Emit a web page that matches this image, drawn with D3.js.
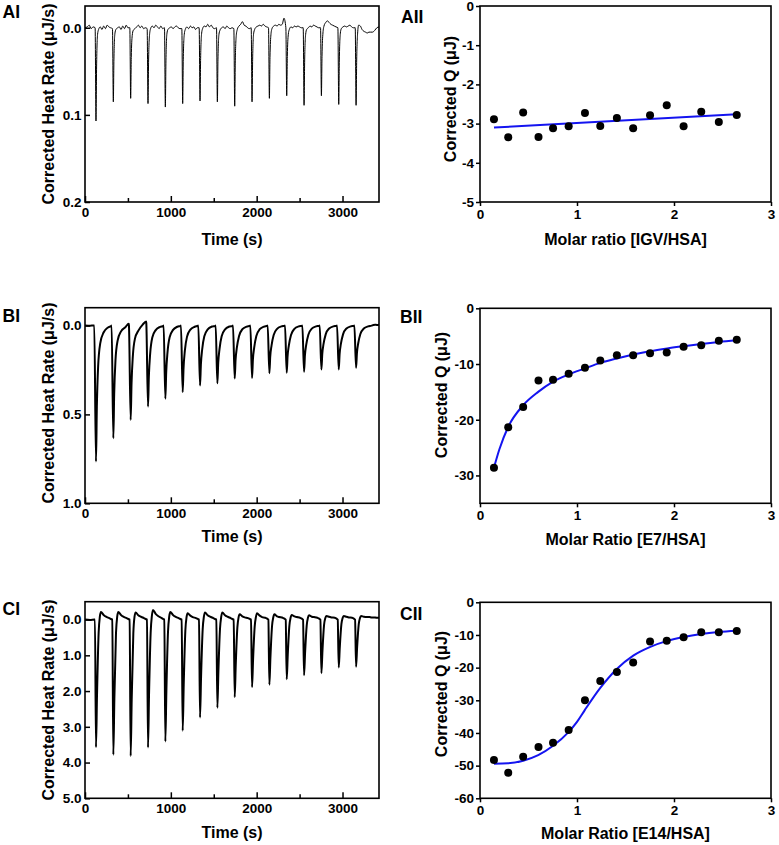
<!DOCTYPE html>
<html><head><meta charset="utf-8">
<script src="https://cdn.jsdelivr.net/npm/d3@7"></script>
<style>
body{margin:0;background:#fff;}
svg text{font-family:"Liberation Sans",Arial,sans-serif;font-weight:bold;fill:#000;}
</style>
</head><body>
<svg id="c" width="779" height="845"></svg>
<script>
// ---------------- DATA ----------------
const injTimes = [128, 330, 532, 734, 936, 1138, 1340, 1542, 1744, 1946, 2148, 2350, 2552, 2754, 2956, 3158];

// AI thermogram (values at time offsets around each injection peak)
const aiOffsets = [-10, 0, 7, 18, 30, 50, 70, 90, 110, 130, 150, 170];
const aiPeaks = [
  [0.000, 0.107, 0.045, 0.008, 0.002, -0.001, 0.002, -0.002, 0.001, -0.003, -0.001, 0.000],
  [0.001, 0.085, 0.036, 0.007, 0.002, 0.000, -0.001, 0.002, -0.002, 0.001, -0.003, 0.000],
  [0.000, 0.081, 0.034, 0.009, 0.003, 0.001, -0.001, -0.003, 0.000, -0.002, 0.001, 0.000],
  [0.001, 0.087, 0.037, 0.008, 0.001, -0.002, 0.000, -0.003, -0.001, 0.001, -0.002, 0.001],
  [0.000, 0.091, 0.038, 0.007, 0.002, 0.000, -0.001, 0.001, -0.001, -0.002, 0.000, 0.001],
  [0.001, 0.087, 0.036, 0.008, 0.002, -0.001, 0.001, -0.002, 0.000, -0.001, 0.002, 0.000],
  [0.000, 0.084, 0.035, 0.007, 0.001, -0.002, -0.001, -0.004, -0.001, -0.003, 0.000, 0.001],
  [0.000, 0.085, 0.036, 0.008, 0.003, 0.000, -0.001, 0.001, -0.002, 0.000, 0.001, 0.000],
  [0.001, 0.090, 0.038, 0.009, 0.002, -0.002, -0.004, -0.007, -0.003, -0.002, 0.000, 0.001],
  [0.000, 0.085, 0.036, 0.007, 0.002, -0.001, -0.002, -0.003, -0.002, -0.004, -0.002, -0.001],
  [0.000, 0.081, 0.034, 0.008, 0.001, -0.002, -0.003, -0.002, -0.004, -0.003, -0.004, -0.011],
  [0.000, 0.078, 0.033, 0.008, 0.002, -0.001, 0.000, -0.002, -0.001, -0.002, -0.001, 0.000],
  [0.000, 0.089, 0.037, 0.008, 0.002, 0.000, -0.002, -0.001, -0.003, -0.002, -0.001, 0.000],
  [0.000, 0.078, 0.033, 0.006, -0.002, -0.006, -0.008, -0.006, -0.004, -0.003, -0.002, -0.001],
  [0.000, 0.088, 0.037, 0.007, 0.001, -0.001, -0.002, -0.001, -0.002, -0.003, -0.001, 0.000],
  [0.000, 0.089, 0.037, 0.006, -0.003, -0.002, 0.002, 0.004, 0.005, 0.006, 0.005, 0.005]
];
const aiLead = [[0, 0.000], [25, -0.001], [50, -0.003], [70, 0.001], [95, -0.001]];
const aiTail = [[3350, 0.005], [3375, 0.003], [3400, 0.000], [3425, -0.001]];

// BI thermogram
const biOffsets = [-20, 0, 10, 25, 50, 90, 140, 180];
const biPeaks = [
  [0, 0.765, 0.459, 0.230, 0.099, 0.038, 0.011, 0.002],
  [0, 0.634, 0.387, 0.196, 0.085, 0.033, 0.010, -0.010],
  [0, 0.531, 0.329, 0.175, 0.074, 0.029, -0.005, -0.022],
  [-0.015, 0.456, 0.287, 0.160, 0.068, 0.026, 0.008, 0.002],
  [0, 0.412, 0.264, 0.152, 0.066, 0.025, 0.007, 0.002],
  [0, 0.375, 0.240, 0.143, 0.064, 0.023, 0.007, 0.001],
  [0, 0.338, 0.220, 0.135, 0.061, 0.022, 0.006, 0.002],
  [0, 0.325, 0.211, 0.133, 0.060, 0.022, 0.006, 0.002],
  [0, 0.298, 0.194, 0.125, 0.060, 0.021, 0.006, 0.001],
  [0, 0.296, 0.192, 0.124, 0.059, 0.021, 0.006, 0.001],
  [0, 0.268, 0.174, 0.113, 0.054, 0.019, 0.005, 0.001],
  [0, 0.266, 0.173, 0.112, 0.053, 0.019, 0.005, 0.001],
  [0, 0.260, 0.169, 0.109, 0.052, 0.018, 0.005, 0.001],
  [0, 0.248, 0.161, 0.104, 0.050, 0.017, 0.005, 0.001],
  [0, 0.248, 0.161, 0.104, 0.050, 0.017, 0.005, 0.001],
  [0, 0.238, 0.155, 0.100, 0.048, 0.017, 0.005, 0.001]
];
const biLead = [[0, 0.000], [60, 0.001], [100, 0.000]];
const biTail = [[3360, -0.003], [3380, -0.004], [3400, -0.003], [3425, -0.004]];

// CI thermogram
const ciOffsets = [-12, 0, 12, 31, 45, 58, 89, 117, 155, 180];
const ciPeaks = [
  [0, 3.57, 2.11, 0.36, -0.08, -0.21, -0.13, -0.08, -0.04, -0.01],
  [0, 3.78, 2.23, 0.38, -0.08, -0.21, -0.13, -0.08, -0.04, -0.01],
  [0, 3.82, 2.25, 0.38, -0.08, -0.20, -0.12, -0.08, -0.04, -0.01],
  [0, 3.58, 2.11, 0.36, -0.10, -0.27, -0.16, -0.10, -0.05, -0.01],
  [0, 3.41, 2.01, 0.34, -0.08, -0.21, -0.13, -0.08, -0.04, -0.01],
  [0, 3.11, 1.83, 0.31, -0.07, -0.18, -0.11, -0.07, -0.04, -0.01],
  [0, 2.74, 1.62, 0.27, -0.08, -0.20, -0.12, -0.08, -0.04, -0.01],
  [0, 2.47, 1.46, 0.25, -0.08, -0.20, -0.12, -0.08, -0.04, -0.01],
  [0, 2.17, 1.28, 0.22, -0.06, -0.15, -0.09, -0.06, -0.04, -0.01],
  [0, 1.89, 1.12, 0.19, -0.07, -0.18, -0.11, -0.07, -0.05, -0.02],
  [0, 1.82, 1.07, 0.18, -0.06, -0.15, -0.09, -0.07, -0.05, -0.02],
  [0, 1.67, 0.99, 0.17, -0.05, -0.13, -0.09, -0.07, -0.05, -0.02],
  [0, 1.56, 0.92, 0.16, -0.05, -0.12, -0.08, -0.07, -0.05, -0.02],
  [0, 1.50, 0.89, 0.15, -0.04, -0.10, -0.08, -0.06, -0.05, -0.02],
  [0, 1.34, 0.79, 0.13, -0.04, -0.10, -0.08, -0.06, -0.05, -0.02],
  [0, 1.32, 0.78, 0.13, -0.04, -0.10, -0.08, -0.07, -0.07, -0.06]
];
const ciLead = [[0, 0.0], [60, 0.01], [110, 0.0]];
const ciTail = [[3360, -0.06], [3400, -0.05], [3425, -0.05]];

// Integrated heats
const ratioX = [0.144, 0.291, 0.445, 0.603, 0.753, 0.914, 1.082, 1.240, 1.411, 1.579, 1.753, 1.925, 2.099, 2.281, 2.462, 2.647];
const aiiQ = [-2.89, -3.35, -2.72, -3.34, -3.12, -3.07, -2.73, -3.06, -2.86, -3.12, -2.79, -2.53, -3.07, -2.70, -2.96, -2.78];
const biiQ = [-28.6, -21.35, -17.7, -12.94, -12.82, -11.75, -10.67, -9.36, -8.41, -8.41, -8.05, -7.93, -6.92, -6.62, -5.84, -5.66];
const ciiQ = [-48.3, -52.2, -47.3, -44.3, -43.0, -39.1, -30.0, -24.1, -21.3, -18.4, -12.0, -11.8, -10.7, -9.2, -9.2, -8.8];

// Fitted curves
const aiiFit = [[0.144, -3.10], [2.647, -2.76]];
const biiFit = [[0.144, -28.6], [0.2, -25.3], [0.29, -21.3], [0.445, -17.4], [0.6, -15.0], [0.75, -13.2], [0.91, -11.9], [1.08, -10.8], [1.24, -9.8], [1.41, -9.0], [1.58, -8.3], [1.75, -7.7], [1.93, -7.2], [2.1, -6.8], [2.28, -6.4], [2.46, -6.05], [2.647, -5.75]];
const ciiFit = [[0.144, -49.4], [0.29, -49.3], [0.445, -48.5], [0.6, -46.8], [0.75, -44.0], [0.91, -39.8], [1.0, -36.6], [1.08, -33.0], [1.24, -26.2], [1.41, -20.4], [1.58, -16.3], [1.75, -13.7], [1.93, -11.8], [2.1, -10.6], [2.28, -9.7], [2.46, -9.1], [2.647, -8.7]];

// Axis ticks / labels
const timeTicks = [0, 1000, 2000, 3000];
const timeMinor = [500, 1500, 2500];
const aiYTicks = [0, 0.1, 0.2];
const biYTicks = [0, 0.5, 1.0];
const ciYTicks = [0, 1, 2, 3, 4, 5];
const ratioTicks = [0, 1, 2, 3];
const aiiYTicks = [0, -1, -2, -3, -4, -5];
const biiYTicks = [0, -10, -20, -30];
const ciiYTicks = [0, -10, -20, -30, -40, -50, -60];

// ---------------- DRAW ----------------
const svg = d3.select("#c");
const TICK_FS = "13.5px", TITLE_FS = "16px";

function buildTrace(lead, offsets, rows, tail) {
  const pts = lead.slice();
  rows.forEach((row, k) => row.forEach((v, j) => pts.push([injTimes[k] + offsets[j], v])));
  return pts.concat(tail);
}

function styleAxis(g) {
  g.select(".domain").remove();
  g.selectAll(".tick line").attr("stroke", "#000").attr("stroke-width", 1.5);
  g.selectAll(".tick text").style("font-size", TICK_FS).attr("fill", "#000")
    .style("font-family", '"Liberation Sans",Arial,sans-serif').style("font-weight", "bold");
}

function frame(b) {
  svg.append("rect").attr("x", b.l).attr("y", b.t).attr("width", b.r - b.l).attr("height", b.b - b.t)
    .attr("fill", "none").attr("stroke", "#000").attr("stroke-width", 1.6);
}

function label(txt, x, y) {
  svg.append("text").attr("x", x).attr("y", y).style("font-size", "17.5px").text(txt);
}
function xTitle(txt, x, y) {
  svg.append("text").attr("x", x).attr("y", y).attr("text-anchor", "middle").style("font-size", TITLE_FS).text(txt);
}
function yTitle(txt, x, y) {
  svg.append("text").attr("transform", `translate(${x},${y}) rotate(-90)`).attr("text-anchor", "middle")
    .attr("dy", "0.35em").style("font-size", TITLE_FS).text(txt);
}

function thermo(b, ydom, yticks, fmt, trace, lw, lab, labPos, ytPos, xtPos) {
  const x = d3.scaleLinear().domain([0, 3425]).range([b.l, b.r]);
  const y = d3.scaleLinear().domain(ydom).range([b.t, b.b]);
  const clipId = "clip" + lab;
  svg.append("clipPath").attr("id", clipId).append("rect")
    .attr("x", b.l).attr("y", b.t).attr("width", b.r - b.l).attr("height", b.b - b.t);
  svg.append("path").datum(trace).attr("clip-path", `url(#${clipId})`)
    .attr("fill", "none").attr("stroke", "#000").attr("stroke-width", lw).attr("stroke-linejoin", "round")
    .attr("d", d3.line().x(d => x(d[0])).y(d => y(d[1])).curve(d3.curveMonotoneX));
  svg.append("g").attr("transform", `translate(0,${b.b})`)
    .call(d3.axisBottom(x).tickValues(timeTicks).tickSizeInner(-6).tickSizeOuter(0).tickPadding(5).tickFormat(d3.format("d")))
    .call(styleAxis);
  svg.append("g").attr("transform", `translate(0,${b.b})`)
    .call(d3.axisBottom(x).tickValues(timeMinor).tickSizeInner(-4).tickSizeOuter(0).tickFormat(""))
    .call(styleAxis);
  svg.append("g").attr("transform", `translate(${b.l},0)`)
    .call(d3.axisLeft(y).tickValues(yticks).tickSizeInner(-5).tickSizeOuter(0).tickPadding(3.5).tickFormat(d3.format(fmt)))
    .call(styleAxis);
  frame(b);
  label(lab, labPos[0], labPos[1]);
  yTitle("Corrected Heat Rate (μJ/s)", ytPos[0], ytPos[1]);
  xTitle("Time (s)", xtPos[0], xtPos[1]);
}

function iso(b, ydom, yticks, qs, fit, lab, labPos, ytPos, xTitleTxt, xtPos, curved) {
  const x = d3.scaleLinear().domain([0, 3]).range([b.l, b.r]);
  const y = d3.scaleLinear().domain(ydom).range([b.b, b.t]);
  svg.append("g").attr("transform", `translate(0,${b.b})`)
    .call(d3.axisBottom(x).tickValues(ratioTicks).tickSizeInner(4).tickSizeOuter(0).tickPadding(3).tickFormat(d => String(d)))
    .call(styleAxis);
  svg.append("g").attr("transform", `translate(${b.l},0)`)
    .call(d3.axisLeft(y).tickValues(yticks).tickSizeInner(4).tickSizeOuter(0).tickPadding(2).tickFormat(d => String(d)))
    .call(styleAxis);
  frame(b);
  svg.append("path").datum(fit).attr("fill", "none").attr("stroke", "#1414f0").attr("stroke-width", 2)
    .attr("d", d3.line().x(d => x(d[0])).y(d => y(d[1])).curve(curved ? d3.curveMonotoneX : d3.curveLinear));
  svg.append("g").selectAll("circle").data(ratioX).join("circle")
    .attr("cx", d => x(d)).attr("cy", (d, i) => y(qs[i])).attr("r", 4).attr("fill", "#000");
  label(lab, labPos[0], labPos[1]);
  yTitle("Corrected Q (μJ)", ytPos[0], ytPos[1]);
  xTitle(xTitleTxt, xtPos[0], xtPos[1]);
}

thermo({l: 85, r: 379, t: 6, b: 202}, [-0.025, 0.2], aiYTicks, ".1f",
  buildTrace(aiLead, aiOffsets, aiPeaks, aiTail), 1, "AI", [2.5, 17.5], [48, 104], [232, 245]);
thermo({l: 85, r: 379, t: 307.7, b: 503.3}, [-0.1, 1.0], biYTicks, ".1f",
  buildTrace(biLead, biOffsets, biPeaks, biTail), 2, "BI", [2.5, 322], [48, 403], [232, 542]);
thermo({l: 85, r: 379, t: 601.7, b: 798.3}, [-0.5, 5.0], ciYTicks, ".1f",
  buildTrace(ciLead, ciOffsets, ciPeaks, ciTail), 2, "CI", [2.5, 615], [48, 700], [232, 838]);

iso({l: 480, r: 771, t: 6, b: 202}, [-5, 0], aiiYTicks, aiiQ, aiiFit, "AII", [401, 22.5], [450, 99],
  "Molar ratio [IGV/HSA]", [625.5, 245], false);
iso({l: 480, r: 771, t: 308.3, b: 503.3}, [-35, 0], biiYTicks, biiQ, biiFit, "BII", [400, 323], [441, 395],
  "Molar Ratio [E7/HSA]", [625.5, 545], true);
iso({l: 480, r: 771, t: 602.3, b: 798.3}, [-60, 0], ciiYTicks, ciiQ, ciiFit, "CII", [400, 620], [441, 694],
  "Molar Ratio [E14/HSA]", [625.5, 839], true);
</script>
</body></html>
